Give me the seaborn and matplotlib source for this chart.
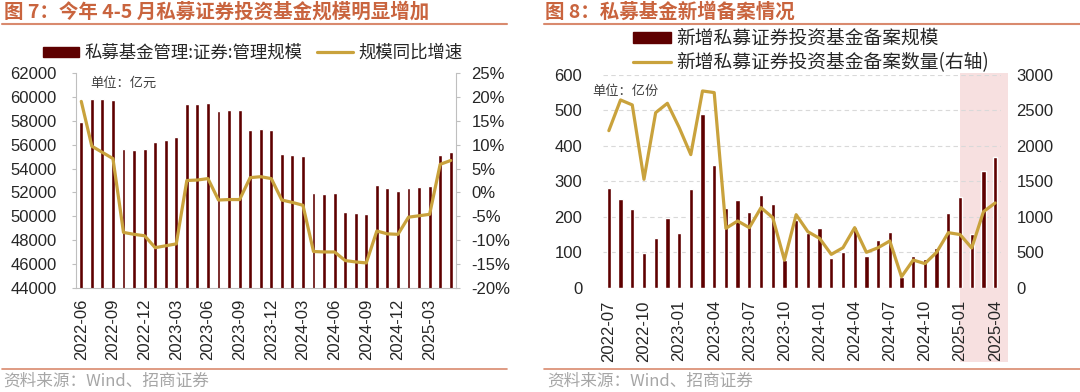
import numpy as np
import pandas as pd
import matplotlib
matplotlib.use("Agg")
import matplotlib.pyplot as plt
import seaborn as sns
from matplotlib.patches import Patch
from matplotlib.lines import Line2D

# 图7: 私募证券投资基金管理规模 (亿元) 及同比增速 (%), 2022-06 ~ 2025-05
months_l = pd.period_range('2022-06', '2025-05', freq='M').strftime('%Y-%m').tolist()
mgmt_scale = [57900, 59850, 59870, 59800, 55650, 55600, 55630,
              56200, 56400, 56620, 59420, 59450, 59500, 58800, 58880, 58930, 57280, 57320, 57240,
              55190, 55140, 55060, 51970, 51860, 51970, 50320, 50260, 50180, 52590, 52340, 52140,
              52370, 52450, 52530, 55110, 55420]
yoy_growth = [19.1, 9.7, 8.4, 7.1, -8.4, -8.8, -9.1,
              -11.6, -11.2, -10.8, 2.5, 2.6, 2.9, -1.6, -1.5, -1.5, 3.1, 3.3, 2.9,
              -1.6, -2.1, -2.7, -12.4, -12.5, -12.5, -14.3, -14.6, -14.8, -8.1, -8.7, -8.8,
              -5.2, -4.9, -4.6, 5.9, 6.7]
ticks_l = ['2022-06', '2022-09', '2022-12', '2023-03', '2023-06', '2023-09',
           '2023-12', '2024-03', '2024-06', '2024-09', '2024-12', '2025-03']

# 图8: 新增备案规模 (亿份) 及备案数量, 2022-07 ~ 2025-04
months_r = pd.period_range('2022-07', '2025-04', freq='M').strftime('%Y-%m').tolist()
new_scale = [282, 251, 223, 98, 141, 198, 153, 278, 489, 346, 224, 246, 213, 261, 237, 78, 191,
             153, 169, 85, 100, 172, 89, 134, 156, 30, 89, 81, 111, 211, 255, 151, 330, 368]
new_count = [2215, 2648, 2578, 1529, 2469, 2601, 2262, 1877, 2775, 2752, 837, 941, 847, 1129, 988, 390, 1030,
             790, 696, 470, 564, 847, 499, 564, 659, 155, 390, 340, 500, 776, 750, 560, 1072, 1195]
ticks_r = ['2022-07', '2022-10', '2023-01', '2023-04', '2023-07', '2023-10',
           '2024-01', '2024-04', '2024-07', '2024-10', '2025-01', '2025-04']
shade_from = '2025-01'

BAR = '#5E0000'
GOLD = '#C9A23C'
TITLE = '#C9643E'
RULE = '#D98A6E'
SPINE = '#BFBFBF'
CJK = ['Noto Sans CJK SC', 'DejaVu Sans']
W, H = 1080, 392

sns.set_theme(style="white")
plt.rcParams['font.family'] = ['Liberation Sans', 'Noto Sans CJK SC', 'DejaVu Sans']
plt.rcParams['axes.unicode_minus'] = False

fig = plt.figure(figsize=(W / 100, H / 100), dpi=100)


def px(x, y):
    return x / W, 1 - y / H


# ---------- 左图 ----------
ax1 = fig.add_axes([76 / W, 1 - 287.7 / H, 380 / W, 214.4 / H])
sns.barplot(x=months_l, y=mgmt_scale, ax=ax1, color=BAR, saturation=1, width=0.37)
ax1.set_xlim(-0.5, len(months_l) - 0.5)
ax1.set_ylim(44000, 62000)
ax1.set_yticks(np.arange(44000, 62001, 2000))
ax1.set_xticks(np.arange(-0.5, len(months_l), 3))
ax1.set_xticklabels([])
ax1.set_xticks([months_l.index(t) for t in ticks_l], ticks_l, minor=True, rotation=90)
ax1.tick_params(axis='x', which='major', length=4, width=0.8, color=SPINE, direction='out')
ax1.tick_params(axis='x', which='minor', length=0, pad=8, labelsize=12)
ax1.tick_params(axis='y', length=3, width=0.8, color=SPINE, pad=11, labelsize=12, left=True)
for s in ['top', 'right']:
    ax1.spines[s].set_visible(False)
for s in ['left', 'bottom']:
    ax1.spines[s].set_color(SPINE)
    ax1.spines[s].set_linewidth(0.8)
ax1.set_xlabel('')
ax1.set_ylabel('')

ax1b = ax1.twinx()
sns.lineplot(x=np.arange(len(months_l)), y=yoy_growth, ax=ax1b, color=GOLD, linewidth=2.3)
ax1b.set_ylim(-20, 25)
ax1b.set_yticks(np.arange(-20, 26, 5))
ax1b.set_yticklabels([f'{v}%' for v in range(-20, 26, 5)])
ax1b.tick_params(axis='y', length=3, width=0.8, color=SPINE, pad=8, labelsize=12, right=True)
for s in ['top', 'left', 'bottom']:
    ax1b.spines[s].set_visible(False)
ax1b.spines['right'].set_color(SPINE)
ax1b.spines['right'].set_linewidth(0.8)
ax1b.set_xlabel('')
ax1b.set_ylabel('')
ax1b.set_xlim(-0.5, len(months_l) - 0.5)

fig.text(*px(90, 83), '单位：亿元', fontsize=9.5, color='#404040', va='center', family=CJK)

fig.legend(handles=[Patch(color=BAR), Line2D([], [], color=GOLD, lw=2.3)],
           labels=['私募基金管理:证券:管理规模', '规模同比增速'],
           loc='center left', bbox_to_anchor=px(43, 53), ncol=2, frameon=False,
           handlelength=2.1, handleheight=0.5, handletextpad=0.3, columnspacing=0.8,
           borderpad=0, borderaxespad=0, prop={'family': CJK, 'size': 12.5})

# ---------- 右图 ----------
ax2 = fig.add_axes([603 / W, 1 - 287.7 / H, 398 / W, 212.7 / H])
i0 = months_r.index(shade_from)
ax2.axvspan(i0 - 0.03, len(months_r) + 0.1, ymin=-0.35, ymax=1.011, color='#F7E0E0',
            clip_on=False, zorder=0, lw=0)
sns.barplot(x=months_r, y=new_scale, ax=ax2, color=BAR, saturation=1, width=0.37, zorder=2)
ax2.set_xlim(-0.5, len(months_r) - 0.5)
ax2.set_ylim(0, 600)
ax2.set_yticks(np.arange(0, 601, 100))
ax2.set_xticks([months_r.index(t) for t in ticks_r], ticks_r, rotation=90)
ax2.tick_params(axis='x', length=0, pad=9, labelsize=12)
ax2.tick_params(axis='y', length=0, pad=15, labelsize=12)
ax2.yaxis.grid(True, linestyle=(0, (4, 3)), color='#D9D9D9', linewidth=0.8, zorder=1)
ax2.set_axisbelow(True)
for s in ax2.spines.values():
    s.set_visible(False)
ax2.set_xlabel('')
ax2.set_ylabel('')

ax2b = ax2.twinx()
sns.lineplot(x=np.arange(len(months_r)), y=new_count, ax=ax2b, color=GOLD, linewidth=2.3)
ax2b.set_ylim(0, 3000)
ax2b.set_yticks(np.arange(0, 3001, 500))
ax2b.tick_params(axis='y', length=0, pad=11, labelsize=12)
for s in ax2b.spines.values():
    s.set_visible(False)
ax2b.set_xlabel('')
ax2b.set_ylabel('')
ax2b.set_xlim(-0.5, len(months_r) - 0.5)

fig.text(*px(592, 92), '单位：亿份', fontsize=9.5, color='#404040', va='center', family=CJK)

fig.legend(handles=[Patch(color=BAR), Line2D([], [], color=GOLD, lw=2.3)],
           labels=['新增私募证券投资基金备案规模', '新增私募证券投资基金备案数量(右轴)'],
           loc='upper left', bbox_to_anchor=px(633, 28), ncol=1, frameon=False,
           handlelength=2.0, handleheight=0.5, handletextpad=0.3, labelspacing=0.15,
           borderpad=0, borderaxespad=0, prop={'family': CJK, 'size': 13.5})

# ---------- 标题与来源 ----------
fig.text(*px(4, 12), '图 7：今年 4-5 月私募证券投资基金规模明显增加', fontsize=14, weight='bold',
         color=TITLE, va='center', family=CJK)
fig.text(*px(545, 12), '图 8：私募基金新增备案情况', fontsize=14, weight='bold',
         color=TITLE, va='center', family=CJK)
for x0, x1 in [(2, 507), (544, 1080)]:
    fig.add_artist(Line2D([x0 / W, x1 / W], [1 - 24 / H] * 2, color=RULE, lw=1.5))
    fig.add_artist(Line2D([x0 / W, x1 / W], [1 - 369 / H] * 2, color=RULE, lw=1.2))
fig.text(*px(3, 381), '资料来源：Wind、招商证券', fontsize=12, color='#A6A6A6', va='center', family=CJK)
fig.text(*px(547, 381), '资料来源：Wind、招商证券', fontsize=12, color='#A6A6A6', va='center', family=CJK)

fig.savefig('out.png', dpi=100)
